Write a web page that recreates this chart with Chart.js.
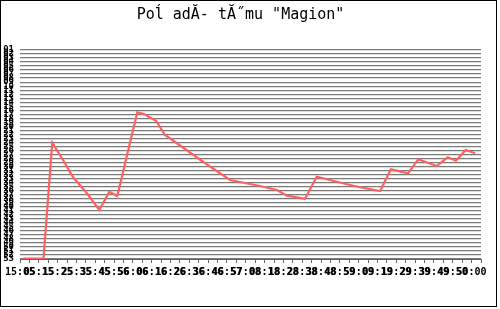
<!DOCTYPE html>
<html>
<head>
<meta charset="utf-8">
<script src="https://cdn.jsdelivr.net/npm/chart.js@4/dist/chart.umd.min.js"></script>
<style>
html,body{margin:0;padding:0;background:#fff;}
#wrap{position:relative;width:500px;height:309px;}
#frame{position:absolute;left:0;top:0;width:497px;height:307px;border:1px solid #000;box-sizing:border-box;pointer-events:none;}
</style>
</head>
<body>
<div id="wrap"><canvas id="c" width="500" height="309"></canvas><div id="frame"></div></div>
<script>
// Title (as rendered, mojibake preserved)
const chartTitle = 'Poĺ adĂ- tĂ˝mu "Magion"';

// X tick labels, one every second tick
const xLabels = ["15:05","05:15","15:25","25:35","35:45","45:56","56:06","06:16","16:26","26:36",
  "36:46","46:57","57:08","08:18","18:28","28:38","38:48","48:59","59:09","09:19",
  "19:29","29:39","39:49","49:50","50:00"];

// Series: position in tick units (x) and value in grid units (y)
const seriesX = [0.32, 2.50, 3.43, 4.57, 5.63, 7.09, 8.43, 9.49, 10.34, 12.47, 13.18, 14.46, 15.41,
  16.79, 19.45, 22.32, 25.51, 27.32, 28.38, 30.29, 31.54, 32.95, 35.40, 38.27, 39.43, 41.24,
  42.34, 44.29, 45.46, 46.34, 47.37, 48.36];
const seriesY = [0.12, 0.12, 28.93, 24.63, 20.40, 16.42, 12.19, 16.74, 15.67, 36.49, 36.07, 34.40, 30.85,
  28.61, 24.20, 19.65, 18.16, 17.16, 15.75, 15.00, 20.47, 19.65, 18.23, 16.92, 22.31, 21.32,
  24.80, 23.13, 25.30, 24.45, 27.11, 26.29];

// Y tick labels (one per grid line, rank numbers)
const yMax = 52;
const yLabels = [];
for (let i = 0; i <= yMax; i++) yLabels.push(String(yMax + 1 - i).padStart(2, '0'));

const points = seriesX.map((x, i) => ({x: x, y: seriesY[i]}));

new Chart(document.getElementById('c'), {
  type: 'line',
  data: {
    datasets: [{
      data: points,
      borderColor: '#ff6060',
      borderWidth: 2.2,
      pointRadius: 0,
      tension: 0,
      fill: false
    }]
  },
  options: {
    responsive: false,
    animation: false,
    events: [],
    layout: {padding: {left: 0, right: 19, top: 0, bottom: 0}},
    plugins: {
      legend: {display: false},
      tooltip: {enabled: false},
      title: {
        display: true,
        text: chartTitle,
        color: '#000',
        font: {family: 'DejaVu Sans Mono', size: 15, weight: 'normal'},
        padding: {top: 6, bottom: 26}
      }
    },
    scales: {
      x: {
        type: 'linear',
        min: 0, max: 49,
        afterFit: s => { s.height = 50; },
        afterBuildTicks: s => { s.ticks = []; for (let i = 0; i <= 49; i++) s.ticks.push({value: i}); },
        grid: {drawOnChartArea: false, drawTicks: true, tickLength: 4, color: '#666', lineWidth: 1},
        border: {display: true, color: '#666', width: 1},
        ticks: {
          autoSkip: false, maxRotation: 0, minRotation: 0, padding: 3,
          color: '#000',
          font: {family: 'DejaVu Sans Mono', size: 10, weight: 'bold'},
          callback: (v) => (v % 2 === 0 && xLabels[v / 2] !== undefined) ? xLabels[v / 2] : ''
        }
      },
      y: {
        type: 'linear',
        min: 0, max: yMax,
        afterFit: s => { s.width = 20; },
        afterBuildTicks: s => { s.ticks = []; for (let i = 0; i <= yMax; i++) s.ticks.push({value: i}); },
        grid: {drawTicks: false, color: '#7a7a7a', lineWidth: 1.3},
        border: {display: false},
        ticks: {
          autoSkip: false, padding: 6,
          color: '#000',
          font: {family: 'DejaVu Sans Mono', size: 9, weight: 'bold'},
          callback: (v) => yLabels[v]
        }
      }
    }
  }
});
</script>
</body>
</html>
